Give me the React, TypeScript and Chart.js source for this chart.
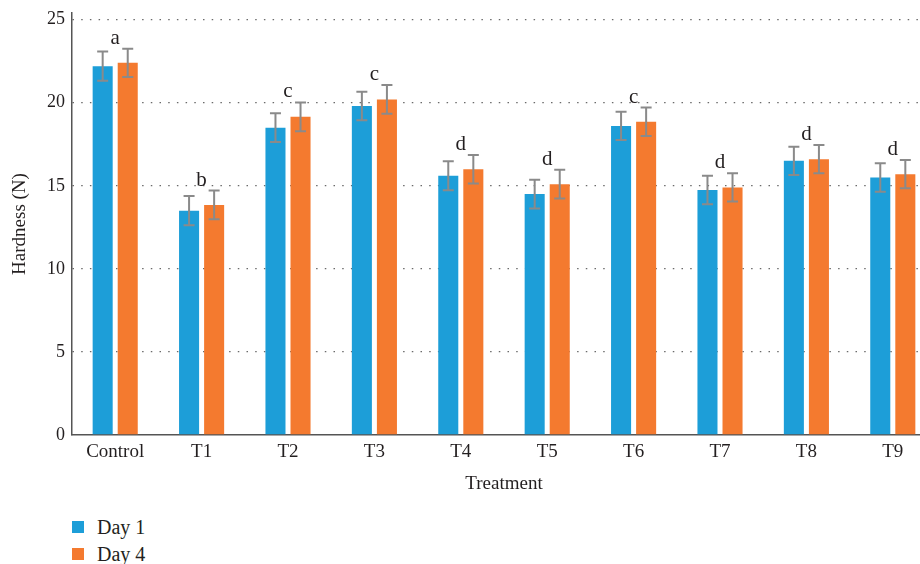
import { useEffect, useRef } from "react";
import { Chart, registerables } from "chart.js";

Chart.register(...registerables);

// Treatments on the x axis
const categories = ["Control", "T1", "T2", "T3", "T4", "T5", "T6", "T7", "T8", "T9"];

// Mean hardness (N) per treatment
const day1 = [22.2, 13.5, 18.5, 19.8, 15.6, 14.5, 18.6, 14.75, 16.5, 15.5];
const day4 = [22.4, 13.85, 19.15, 20.2, 16.0, 15.1, 18.85, 14.9, 16.6, 15.7];

// Standard errors
const day1Err = [0.88, 0.88, 0.86, 0.86, 0.87, 0.86, 0.85, 0.86, 0.85, 0.86];
const day4Err = [0.85, 0.86, 0.87, 0.86, 0.86, 0.86, 0.86, 0.85, 0.85, 0.85];

// Significance groups shown above each treatment
const letters = ["a", "b", "c", "c", "d", "d", "c", "d", "d", "d"];

const yTicks = [0, 5, 10, 15, 20, 25];

const BLUE = "#1d9ed8";
const ORANGE = "#f47a2f";
const SERIF = "'Liberation Serif', 'Times New Roman', serif";
const TEXT = "#231f20";

const errorBarPlugin = {
  id: "errorBars",
  afterDatasetsDraw(chart: any) {
    const { ctx } = chart;
    const y = chart.scales.y;
    const errs = [day1Err, day4Err];
    ctx.save();
    ctx.strokeStyle = "#8a8a8a";
    ctx.lineWidth = 2;
    chart.data.datasets.forEach((ds: any, di: number) => {
      const meta = chart.getDatasetMeta(di);
      meta.data.forEach((bar: any, i: number) => {
        const v = ds.data[i];
        const e = errs[di][i];
        const top = y.getPixelForValue(v + e);
        const bot = y.getPixelForValue(v - e);
        const x = bar.x;
        ctx.beginPath();
        ctx.moveTo(x, top);
        ctx.lineTo(x, bot);
        ctx.moveTo(x - 5.5, top);
        ctx.lineTo(x + 5.5, top);
        ctx.moveTo(x - 5.5, bot);
        ctx.lineTo(x + 5.5, bot);
        ctx.stroke();
      });
    });
    ctx.restore();
  },
};

const letterPlugin = {
  id: "groupLetters",
  afterDatasetsDraw(chart: any) {
    const { ctx } = chart;
    const x = chart.scales.x;
    const y = chart.scales.y;
    ctx.save();
    ctx.font = `21px ${SERIF}`;
    ctx.fillStyle = TEXT;
    ctx.textAlign = "center";
    ctx.textBaseline = "alphabetic";
    letters.forEach((l, i) => {
      const top = Math.max(day1[i] + day1Err[i], day4[i] + day4Err[i]);
      const py = y.getPixelForValue(top) - 5;
      ctx.fillText(l, x.getPixelForValue(i), py);
    });
    ctx.restore();
  },
};

export default function App() {
  const ref = useRef<HTMLCanvasElement | null>(null);

  useEffect(() => {
    if (!ref.current) return;
    const chart = new Chart(ref.current, {
      type: "bar",
      data: {
        labels: categories,
        datasets: [
          { label: "Day 1", data: day1, backgroundColor: BLUE },
          { label: "Day 4", data: day4, backgroundColor: ORANGE },
        ],
      },
      options: {
        animation: false,
        responsive: false,
        layout: { padding: { top: 13, right: 1, left: 0, bottom: 0 } },
        datasets: { bar: { categoryPercentage: 0.58, barPercentage: 0.8 } },
        plugins: {
          legend: { display: false },
          tooltip: { enabled: false },
        },
        scales: {
          x: {
            grid: { display: false, drawTicks: false },
            border: { display: true, color: "#555", width: 1.5 },
            ticks: { font: { family: SERIF, size: 19 }, color: TEXT, padding: 6 },
            title: {
              display: true,
              text: "Treatment",
              font: { family: SERIF, size: 19 },
              color: TEXT,
              padding: { top: 0, bottom: 5 },
            },
            afterFit(scale: any) {
              scale.height = 65;
              scale.paddingLeft = 0;
              scale.paddingRight = 0;
            },
          },
          y: {
            min: 0,
            max: 25.4,
            afterBuildTicks(axis: any) {
              axis.ticks = yTicks.map((v) => ({ value: v }));
            },
            grid: {
              drawTicks: false,
              color: (c: any) => (c.tick && c.tick.value === 0 ? "rgba(0,0,0,0)" : "#6a6a6a"),
              lineWidth: 1.3,
            },
            border: { display: true, color: "#555", width: 1.5, dash: [1.5, 7.2] } as any,
            ticks: { font: { family: SERIF, size: 18 }, color: TEXT, padding: 7 },
            title: {
              display: true,
              text: "Hardness (N)",
              font: { family: SERIF, size: 19 },
              color: TEXT,
              padding: { top: 9, bottom: 0 },
            },
            afterFit(scale: any) {
              scale.width = 72;
              scale.paddingTop = 0;
              scale.paddingBottom = 0;
            },
          },
        },
      },
      plugins: [errorBarPlugin, letterPlugin],
    });
    return () => chart.destroy();
  }, []);

  const legendItem = (color: string, label: string, top: number) => (
    <div
      style={{
        position: "absolute",
        left: 72,
        top,
        display: "flex",
        alignItems: "center",
        fontFamily: SERIF,
        fontSize: 20,
        color: TEXT,
        lineHeight: "20px",
      }}
    >
      <span style={{ width: 12, height: 12, background: color, display: "inline-block", marginRight: 13 }} />
      <span>{label}</span>
    </div>
  );

  return (
    <div style={{ position: "absolute", left: 0, top: 0, width: 920, height: 564, overflow: "hidden", background: "#fff" }}>
      <canvas ref={ref} width={937} height={500} style={{ position: "absolute", left: 0, top: 0 }} />
      {legendItem(BLUE, "Day 1", 517)}
      {legendItem(ORANGE, "Day 4", 544)}
    </div>
  );
}
